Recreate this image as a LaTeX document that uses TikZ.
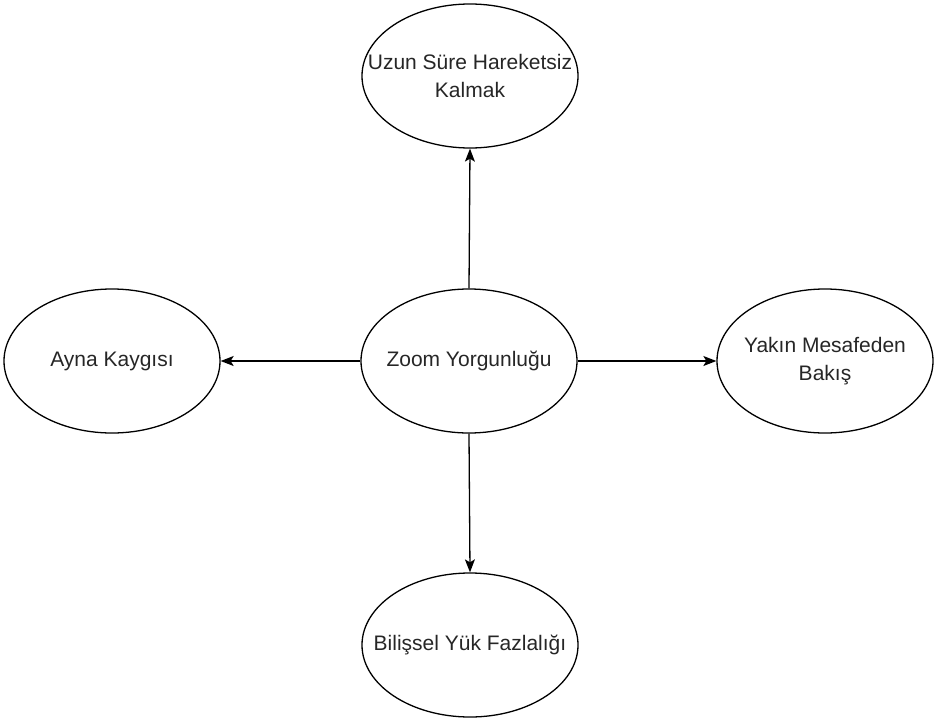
\documentclass[tikz,border=0pt]{standalone}
\usepackage{fontspec}
\setmainfont{Liberation Sans}
\usetikzlibrary{shapes.geometric,arrows.meta}
\begin{document}
\begin{tikzpicture}[x=1pt,y=-1pt,
  oval/.style={ellipse,draw=black,line width=1.3pt,minimum width=216pt,minimum height=144pt,inner sep=0pt},
  txt/.style={align=center,inner sep=0pt,font=\fontsize{21}{28}\selectfont,text=black!85},
  conn/.style={line width=1.3pt,-{Stealth[length=13pt,width=10pt,inset=3pt]}}]
\useasboundingbox (0,0) rectangle (935,718);
\node[oval] (z) at (469,361) {};
\node[oval] (u) at (470,76) {};
\node[oval] (a) at (112,361) {};
\node[oval] (y) at (825,361) {};
\node[oval] (b) at (470,645) {};
\node[txt] (zt) at (z.center) {Zoom Yorgunluğu};
\node[txt] (ut) at (u.center) {Uzun Süre Hareketsiz\\Kalmak};
\node[txt] (at) at (a.center) {Ayna Kaygısı};
\node[txt] (yt) at (y.center) {Yakın Mesafeden\\Bakış};
\node[txt] (bt) at (b.center) {Bilişsel Yük Fazlalığı};
\draw[conn] (z.north) -- (u.south);
\draw[conn] (z.west) -- (a.east);
\draw[conn] (z.east) -- (y.west);
\draw[conn] (z.south) -- (b.north);
\end{tikzpicture}
\end{document}
